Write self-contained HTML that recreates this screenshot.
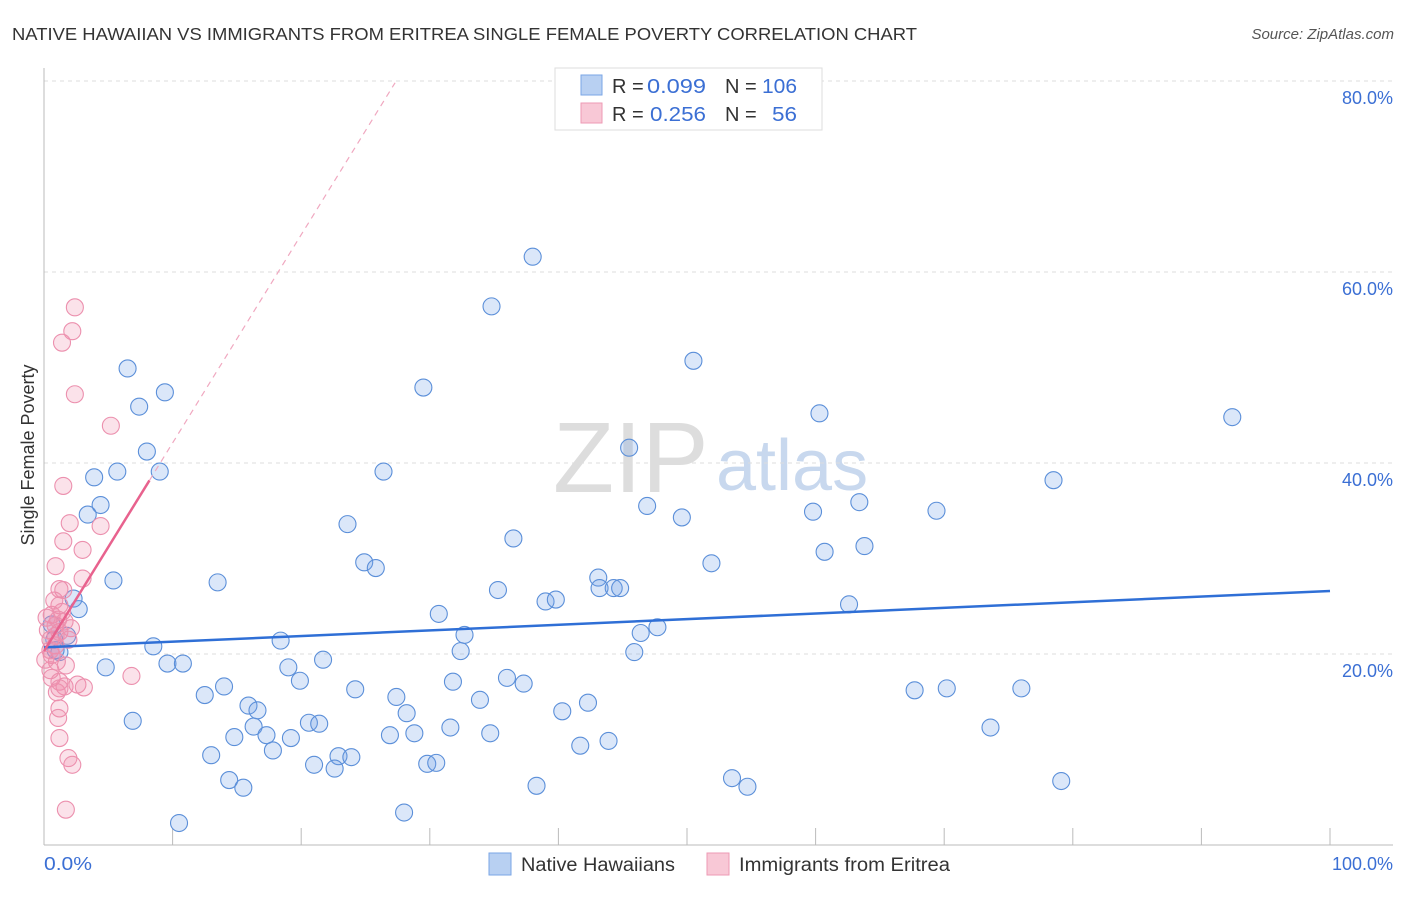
<!DOCTYPE html>
<html><head><meta charset="utf-8"><style>
body{margin:0;background:#fff;font-family:"Liberation Sans",sans-serif}
svg text{font-family:"Liberation Sans",sans-serif}
</style></head><body>
<svg id="chart" width="1406" height="892">
<text x="12" y="40" font-size="17.5" fill="#333" textLength="905" lengthAdjust="spacingAndGlyphs">NATIVE HAWAIIAN VS IMMIGRANTS FROM ERITREA SINGLE FEMALE POVERTY CORRELATION CHART</text>
<text x="1394" y="39" font-size="15" fill="#555" text-anchor="end" font-style="italic">Source: ZipAtlas.com</text>
<g>
<text x="553" y="492" font-size="100" fill="#ddd" font-family="Liberation Serif">ZIP</text>
<text x="716" y="490" font-size="72" fill="#c8d8ee">atlas</text>
</g>
<g id="grid"></g>
<g id="axes"></g>
<g id="marks"></g>
<text transform="translate(34,455) rotate(-90)" font-size="18" fill="#333" text-anchor="middle">Single Female Poverty</text>
<text x="44" y="870" font-size="18" fill="#3b6fd4" textLength="48" lengthAdjust="spacingAndGlyphs">0.0%</text>
<text x="1393" y="870" font-size="18" fill="#3b6fd4" text-anchor="end">100.0%</text>
<g>
<rect x="555" y="68" width="267" height="62" fill="#fff" stroke="#ddd"/>
<rect x="581" y="75" width="21" height="20" fill="#b8d0f2" stroke="#7aa6e6"/>
<rect x="581" y="103" width="21" height="20" fill="#f8c8d6" stroke="#ee9ab4"/>
<text x="612" y="93" font-size="20" fill="#333">R = <tspan fill="#3b6fd4" x="647" textLength="59" lengthAdjust="spacingAndGlyphs">0.099</tspan></text>
<text x="725" y="93" font-size="20" fill="#333">N = <tspan fill="#3b6fd4" x="762" textLength="35" lengthAdjust="spacingAndGlyphs">106</tspan></text>
<text x="612" y="121" font-size="20" fill="#333">R = <tspan fill="#3b6fd4" x="650" textLength="56" lengthAdjust="spacingAndGlyphs">0.256</tspan></text>
<text x="725" y="121" font-size="20" fill="#333">N = <tspan fill="#3b6fd4" x="772" textLength="25" lengthAdjust="spacingAndGlyphs">56</tspan></text>
</g>
<g>
<rect x="489" y="853" width="22" height="22" fill="#b8d0f2" stroke="#7aa6e6"/>
<text x="521" y="871" font-size="19" fill="#333" textLength="154" lengthAdjust="spacingAndGlyphs">Native Hawaiians</text>
<rect x="707" y="853" width="22" height="22" fill="#f8c8d6" stroke="#ee9ab4"/>
<text x="739" y="871" font-size="19" fill="#333" textLength="211" lengthAdjust="spacingAndGlyphs">Immigrants from Eritrea</text>
</g>
</svg>
<script>
const yTicks=[20,40,60,80];
const yTickLabels=["20.0%","40.0%","60.0%","80.0%"];
const xTicks=[0,10,20,30,40,50,60,70,80,90,100];
const blueX=[38.0,34.8,50.5,6.5,9.4,7.4,29.5,60.3,92.4,45.5,8.0,5.7,9.0,3.9,26.4,78.5,4.4,3.4,46.9,63.4,59.8,69.4,49.6,23.6,36.5,63.8,60.7,24.9,25.8,51.9,43.1,5.4,13.5,43.2,44.3,44.8,35.3,2.3,2.7,39.0,39.8,62.6,30.7,47.7,46.4,32.7,1.8,18.4,8.5,32.4,45.9,1.2,21.7,9.6,10.8,4.8,19.0,36.0,19.9,31.8,37.3,14.0,24.2,67.7,70.2,76.0,12.5,27.4,33.9,42.3,15.9,16.6,40.3,28.2,6.9,20.6,21.4,16.3,31.6,73.6,14.8,17.3,19.2,26.9,28.8,34.7,43.9,41.7,17.8,13.0,22.9,23.9,21.0,22.6,29.8,30.5,14.4,15.5,53.5,54.7,38.3,79.1,28.0,10.5,0.8,0.9,0.6];
const blueY=[61.6,56.4,50.7,49.9,47.4,45.9,47.9,45.2,44.8,41.6,41.2,39.1,39.1,38.5,39.1,38.2,35.6,34.6,35.5,35.9,34.9,35.0,34.3,33.6,32.1,31.3,30.7,29.6,29.0,29.5,28.0,27.7,27.5,26.9,26.9,26.9,26.7,25.8,24.7,25.5,25.7,25.2,24.2,22.8,22.2,22.0,21.9,21.4,20.8,20.3,20.2,20.2,19.4,19.0,19.0,18.6,18.6,17.5,17.2,17.1,16.9,16.6,16.3,16.2,16.4,16.4,15.7,15.5,15.2,14.9,14.6,14.1,14.0,13.8,13.0,12.8,12.7,12.4,12.3,12.3,11.3,11.5,11.2,11.5,11.7,11.7,10.9,10.4,9.9,9.4,9.3,9.2,8.4,8.0,8.5,8.6,6.8,6.0,7.0,6.1,6.2,6.7,3.4,2.3,21.5,20.4,23.1];
const pinkX=[2.4,2.2,1.4,2.4,5.2,1.5,2.0,4.4,1.5,3.0,0.9,3.0,1.2,1.5,1.2,0.6,1.1,1.4,0.9,0.3,1.2,0.5,0.9,0.6,1.0,1.7,0.5,6.8,0.6,1.2,1.6,2.6,3.1,1.0,1.2,1.2,1.1,1.2,1.9,2.2,1.7,0.2,0.8,1.6,0.5,2.1,0.1,0.9,1.9];
const pinkY=[56.3,53.8,52.6,47.2,43.9,37.6,33.7,33.4,31.8,30.9,29.2,27.9,26.8,26.7,25.1,24.1,23.6,24.4,23.0,22.5,22.3,21.5,20.9,19.9,19.2,18.8,18.3,17.7,17.5,17.1,16.6,16.8,16.5,16.0,16.4,14.3,13.3,11.2,9.1,8.4,3.7,23.8,25.6,23.4,20.4,22.7,19.4,21.9,21.5];
const blueTrend=[20.7,26.6];
const pinkTrend={intercept:20.3,slope:2.18,solidEnd:8.2,dashEnd:27.3};

const NS="http://www.w3.org/2000/svg";
const sx=v=>44+v*12.86;
const sy=v=>845-v*9.55;
function mk(tag,attrs,parent){const e=document.createElementNS(NS,tag);for(const k in attrs)e.setAttribute(k,attrs[k]);parent.appendChild(e);return e;}
const grid=document.getElementById('grid'),axes=document.getElementById('axes'),marks=document.getElementById('marks');
yTicks.forEach((t,i)=>{
  const l=mk('line',{x1:44,x2:1393,y1:sy(t),y2:sy(t),stroke:'#ddd','stroke-dasharray':'4,4'},grid);
  
  
  const tx=mk('text',{x:1393,y:sy(t)+23,'font-size':18,fill:'#3b6fd4','text-anchor':'end'},grid);
  tx.textContent=yTickLabels[i];
  
  
});
const ax=mk('line',{x1:44,x2:1393,y1:845,y2:845,stroke:'#bbb'},axes);


const ay=mk('line',{x1:44,x2:44,y1:68,y2:845,stroke:'#bbb'},axes);


xTicks.forEach(t=>{
  const l=mk('line',{x1:sx(t),x2:sx(t),y1:828,y2:845,stroke:'#bbb'},axes);
  
  
});
blueX.forEach((x,i)=>{
  const c=mk('circle',{cx:sx(x),cy:sy(blueY[i]),r:8.5,fill:'rgba(110,160,230,0.25)',stroke:'#5b8fd9','stroke-width':1.1},marks);
  
  
});
pinkX.forEach((x,i)=>{
  const c=mk('circle',{cx:sx(x),cy:sy(pinkY[i]),r:8.5,fill:'rgba(240,140,170,0.25)',stroke:'#ec90ae','stroke-width':1.1},marks);
  
  
});
const bt=mk('line',{x1:sx(0),y1:sy(blueTrend[0]),x2:sx(100),y2:sy(blueTrend[1]),stroke:'#2f6fd6','stroke-width':2.5},marks);


const py=x=>pinkTrend.intercept+pinkTrend.slope*x;
const ps=mk('line',{x1:sx(0),y1:sy(py(0)),x2:sx(pinkTrend.solidEnd),y2:sy(py(pinkTrend.solidEnd)),stroke:'#e8628e','stroke-width':2.5},marks);


const pd=mk('line',{x1:sx(pinkTrend.solidEnd),y1:sy(py(pinkTrend.solidEnd)),x2:sx(pinkTrend.dashEnd),y2:sy(py(pinkTrend.dashEnd)),stroke:'#f0a8c0','stroke-width':1.2,'stroke-dasharray':'6,5'},marks);


</script>
</body></html>
